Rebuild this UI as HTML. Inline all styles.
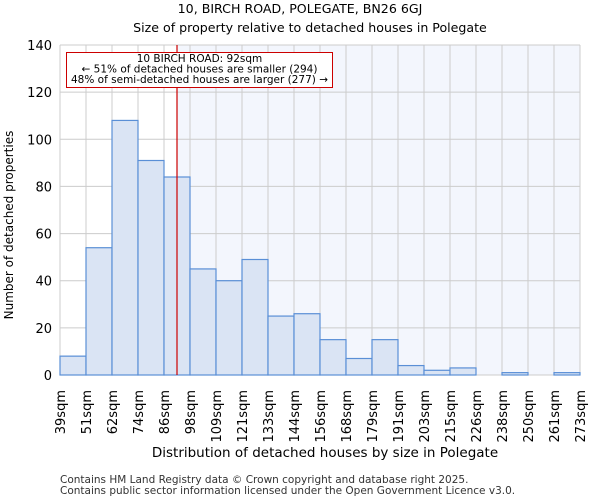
<!DOCTYPE html>
<html><head><meta charset="utf-8"><style>
body{margin:0;background:#fff;font-family:"DejaVu Sans","Liberation Sans",sans-serif}
</style></head><body>
<svg id="c" width="600" height="500" xmlns="http://www.w3.org/2000/svg" font-family="DejaVu Sans, Liberation Sans, sans-serif">
<text x="300" y="13" text-anchor="middle" font-size="12.6">10, BIRCH ROAD, POLEGATE, BN26 6GJ</text>
<text x="310" y="32" text-anchor="middle" font-size="12.6">Size of property relative to detached houses in Polegate</text>
<g id="plot"></g>
<text x="325" y="457" text-anchor="middle" font-size="13.5">Distribution of detached houses by size in Polegate</text>
<text transform="translate(13,225) rotate(-90)" text-anchor="middle" font-size="12">Number of detached properties</text>
<text x="60" y="483" font-size="10.5" fill="#333">Contains HM Land Registry data © Crown copyright and database right 2025.</text>
<text x="60" y="494" font-size="10.5" fill="#333">Contains public sector information licensed under the Open Government Licence v3.0.</text>
</svg>
<script>
const edgeLabels=["39sqm","51sqm","62sqm","74sqm","86sqm","98sqm","109sqm","121sqm","133sqm","144sqm","156sqm","168sqm","179sqm","191sqm","203sqm","215sqm","226sqm","238sqm","250sqm","261sqm","273sqm"];
const counts=[8,54,108,91,84,45,40,49,25,26,15,7,15,4,2,3,0,1,0,1];
const yTicks=[0,20,40,60,80,100,120,140];
const markerBin=4.5;
const X0=60,X1=580,Y0=375,Y1=45,YMAX=140;
const bw=(X1-X0)/counts.length;
const xs=i=>X0+i*bw;
const ys=v=>Y0-(Y0-Y1)*v/YMAX;
const NS="http://www.w3.org/2000/svg";
const g=document.getElementById('plot');
function mk(t,a){const e=document.createElementNS(NS,t);for(const k in a)e.setAttribute(k,a[k]);g.appendChild(e);return e;}
const mx=xs(markerBin);
let e=mk('rect',{x:mx,y:Y1,width:X1-mx,height:Y0-Y1,fill:'#f3f6fd'});


yTicks.forEach(t=>{
 let l=mk('line',{x1:X0,x2:X1,y1:ys(t),y2:ys(t),stroke:'#cccccc','stroke-width':1});
 
 
 let tx=mk('text',{x:X0-8,y:ys(t)+5,'text-anchor':'end','font-size':13});
 tx.textContent=t;
 
 
});
edgeLabels.forEach((s,i)=>{
 let l=mk('line',{x1:xs(i),x2:xs(i),y1:Y1,y2:Y0,stroke:'#cccccc','stroke-width':1});
 
 
 let tx=mk('text',{transform:`translate(${xs(i)+5},${Y0+15}) rotate(-90)`,'text-anchor':'end','font-size':13});
 tx.textContent=s;
 
 
});
counts.forEach((v,i)=>{
 let r=mk('rect',{x:xs(i),y:ys(v),width:bw,height:Y0-ys(v),fill:'#dae4f4',stroke:'#5a8fd6','stroke-width':1.2});
 
 
});
e=mk('line',{x1:mx,x2:mx,y1:Y1,y2:Y0,stroke:'#cc0000','stroke-width':1.2});


e=mk('rect',{x:66.5,y:52.5,width:266,height:35,fill:'#fff',stroke:'#cc0000','stroke-width':1});


["10 BIRCH ROAD: 92sqm","← 51% of detached houses are smaller (294)","48% of semi-detached houses are larger (277) →"].forEach((s,i)=>{
 let t=mk('text',{x:199.5,y:62+i*10.5,'text-anchor':'middle','font-size':10.5});
 t.textContent=s;
 
 
});
</script>
</body></html>
